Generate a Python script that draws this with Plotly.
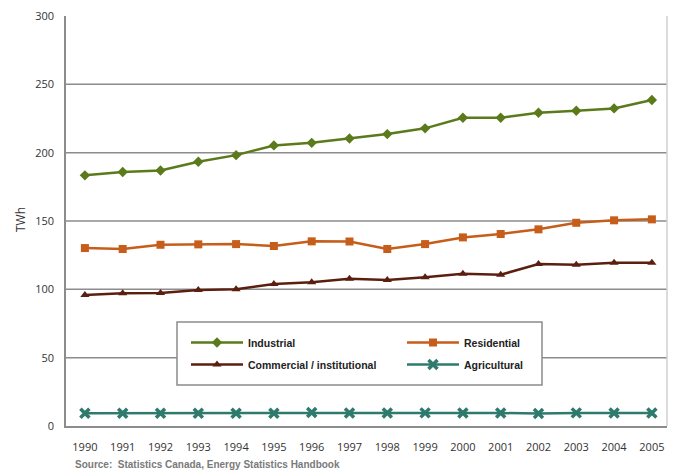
import plotly.graph_objects as go

years = list(range(1990, 2006))
industrial = [183.4, 185.8, 187.0, 193.4, 198.2, 205.3, 207.2, 210.4, 213.6, 217.8, 225.5, 225.5, 229.2, 230.7, 232.4, 238.5]
residential = [130.2, 129.5, 132.6, 132.9, 133.1, 131.7, 135.1, 135.0, 129.5, 133.1, 138.0, 140.5, 143.9, 148.7, 150.5, 151.2]
commercial = [95.8, 97.1, 97.4, 99.5, 100.0, 103.9, 105.1, 107.8, 106.8, 108.8, 111.4, 110.7, 118.5, 118.0, 119.5, 119.5]
agricultural = [9.3, 9.4, 9.3, 9.4, 9.3, 9.4, 9.8, 9.5, 9.5, 9.6, 9.5, 9.5, 9.1, 9.6, 9.5, 9.5]

yticks = [0, 50, 100, 150, 200, 250, 300]
gridvals = [50, 100, 150, 200, 250]

fig = go.Figure()

def add(name, vals, color, symbol, size, legend, group):
    fig.add_trace(go.Scatter(
        x=years, y=vals, name=name, mode="lines+markers",
        line=dict(color=color, width=2.5),
        marker=dict(symbol=symbol, size=size, color=color, line=dict(width=0)),
        legend=legend, legendgroup=group,
    ))

add("Industrial", industrial, "#5b7a1b", "diamond", 8, "legend", "a")
add("Commercial / institutional", commercial, "#5b1f10", "triangle-up", 8, "legend", "b")
add("Residential", residential, "#c65d1a", "square", 8, "legend2", "c")
add("Agricultural", agricultural, "#2e7a6c", "x-thin", 9, "legend2", "d")
fig.data[3].marker.line = dict(width=3.5, color="#2e7a6c")

for g in gridvals:
    fig.add_shape(type="line", xref="paper", yref="y", x0=0, x1=1, y0=g, y1=g,
                  line=dict(color="#8c8c8c", width=1.5), layer="below")

# right border
fig.add_shape(type="line", xref="paper", yref="paper", x0=1, x1=1, y0=0, y1=1,
              line=dict(color="#d0d0d0", width=1.5))
# legend box
fig.add_shape(type="rect", xref="paper", yref="paper",
              x0=(177 - 66) / 601, x1=(542 - 66) / 601,
              y0=(426 - 385) / 410, y1=(426 - 322) / 410,
              fillcolor="white", line=dict(color="#8c8c8c", width=1.5), layer="between")

legfont = dict(family="Liberation Sans Narrow, Arial Narrow, sans-serif", size=10.5, color="#222222", weight="bold")
common = dict(bgcolor="rgba(0,0,0,0)", borderwidth=0, font=legfont, itemwidth=52,
              orientation="v", yanchor="top", xanchor="left", tracegroupgap=3,
              itemclick=False)

fig.update_layout(
    width=673, height=470,
    margin=dict(l=66, r=6, t=16, b=44),
    paper_bgcolor="white", plot_bgcolor="white",
    showlegend=True,
    legend=dict(x=(186 - 66) / 601, y=(426 - 328) / 410, **common),
    legend2=dict(x=(402 - 66) / 601, y=(426 - 328) / 410, **common),
    xaxis=dict(range=[1989.5, 2005.4], tickvals=years, showgrid=False,
               showline=True, linecolor="#8c8c8c", linewidth=1.5,
               ticks="", ticklabelstandoff=10, zeroline=False,
               tickfont=dict(family="Open Sans, sans-serif", size=11, color="#333333")),
    yaxis=dict(range=[0, 300], tickvals=yticks, showgrid=False,
               showline=True, linecolor="#8c8c8c", linewidth=1.5,
               ticks="", ticklabelstandoff=8, zeroline=False,
               tickfont=dict(family="Open Sans, sans-serif", size=11, color="#333333")),
    annotations=[
        dict(text="TWh", xref="paper", yref="paper", x=(20 - 66) / 601, y=(426 - 220) / 410,
             showarrow=False, textangle=-90, xanchor="center", yanchor="middle",
             font=dict(family="Open Sans, sans-serif", size=12, color="#333333")),
        dict(text="Source:  Statistics Canada, Energy Statistics Handbook", xref="paper", yref="paper",
             x=(73 - 66) / 601, y=(426 - 464) / 410, showarrow=False, xanchor="left", yanchor="middle",
             font=dict(family="Liberation Sans Narrow, Arial Narrow, sans-serif", size=10,
                       color="#7a7a7a", weight="bold")),
    ],
)

fig.write_html("out.html")
